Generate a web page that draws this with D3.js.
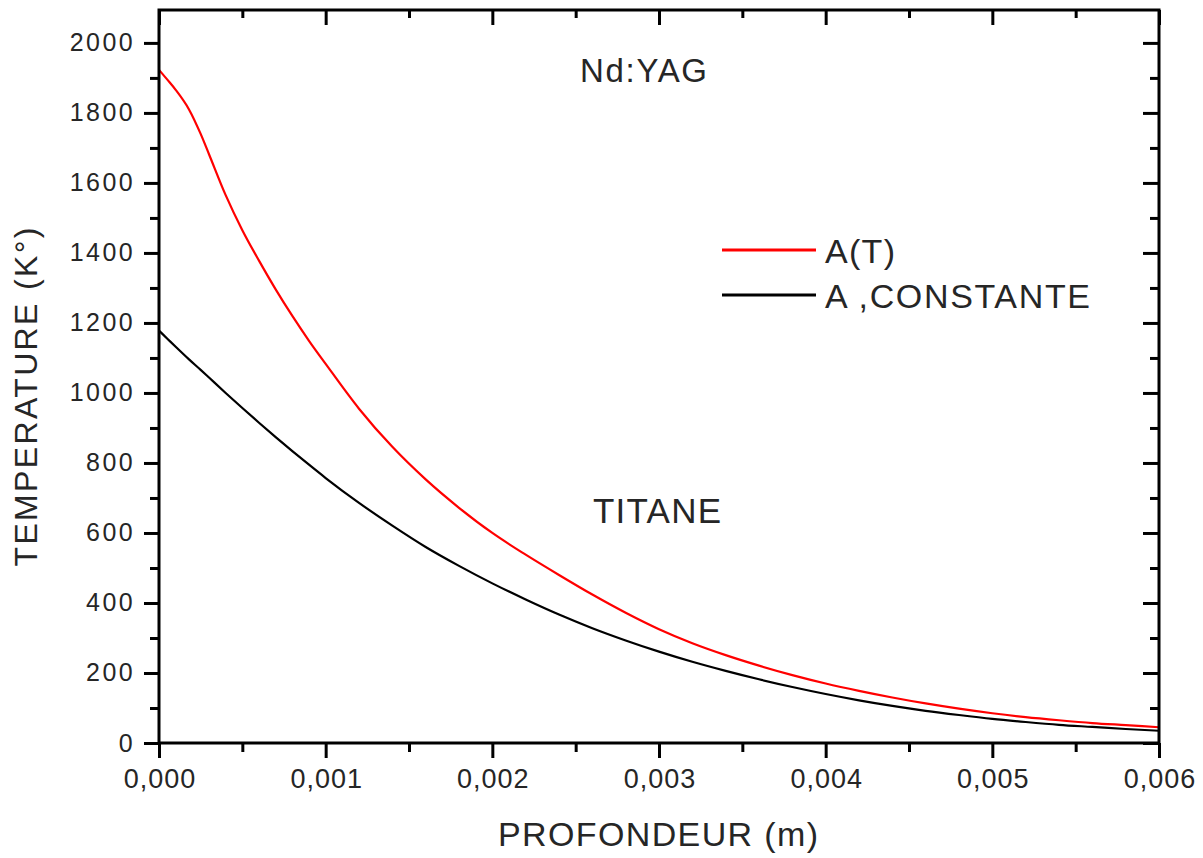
<!DOCTYPE html>
<html>
<head>
<meta charset="utf-8">
<script src="https://cdn.jsdelivr.net/npm/d3@7"></script>
<style>
  html, body { margin: 0; padding: 0; background: #fff; }
  svg { display: block; font-family: "Liberation Sans", Arial, sans-serif; }
</style>
</head>
<body>
<svg id="chart" width="1203" height="858"></svg>
<script>
// ---- data ----
const depth = [0, 0.00005, 0.0001, 0.00018, 0.00025, 0.0003, 0.0004, 0.0005, 0.0006, 0.0007, 0.0008, 0.0009,
  0.001, 0.0012, 0.0014, 0.0016, 0.0018, 0.002, 0.0022, 0.0024, 0.0026, 0.0028, 0.003,
  0.0032, 0.0034, 0.0036, 0.0038, 0.004, 0.0042, 0.0044, 0.0046, 0.0048, 0.005,
  0.0052, 0.0054, 0.0056, 0.0058, 0.006];
const tempAT = [1923, 1895, 1866, 1810, 1740, 1682, 1565, 1465, 1378, 1296, 1220, 1149,
  1083, 955, 846, 753, 672, 600, 538, 480, 424, 372, 325,
  285, 251, 221, 194, 170, 149, 130, 113, 98, 85,
  74, 65, 57, 51, 45];
const tempConst = [1178, 1155, 1132, 1096, 1066, 1044, 1000, 957, 915, 874, 834, 795,
  757, 686, 621, 560, 506, 456, 410, 367, 328, 293, 261,
  232, 206, 182, 160, 140, 122, 106, 92, 80, 69,
  60, 52, 46, 40, 35];
const xTicks = [0, 0.001, 0.002, 0.003, 0.004, 0.005, 0.006];
const xMinorTicks = [0.0005, 0.0015, 0.0025, 0.0035, 0.0045, 0.0055];
const yTicks = [0, 200, 400, 600, 800, 1000, 1200, 1400, 1600, 1800, 2000];
const yMinorTicks = [100, 300, 500, 700, 900, 1100, 1300, 1500, 1700, 1900];
const seriesNames = ["A(T)", "A ,CONSTANTE"];
const seriesColors = ["#ff0000", "#000000"];
const xTitle = "PROFONDEUR (m)";
const yTitle = "TEMPERATURE (K°)";
const annotations = ["Nd:YAG", "TITANE"];

// ---- layout ----
const svg = d3.select("#chart");
const L = 159, R = 1159, T = 10, B = 743;
const x = d3.scaleLinear().domain([0, 0.006]).range([L, R]);
const y = d3.scaleLinear().domain([0, 2094]).range([B, T]);
const fmtX = d => d.toFixed(3).replace(".", ",");
const axisColor = "#000";
const textColor = "#262626";

// curves
const series = [tempAT, tempConst];
const line = d3.line().x(d => x(d[0])).y(d => y(d[1])).curve(d3.curveMonotoneX);
[1, 0].forEach(i => {
  svg.append("path")
    .datum(depth.map((d, k) => [d, series[i][k]]))
    .attr("fill", "none")
    .attr("stroke", seriesColors[i])
    .attr("stroke-width", 2.2)
    .attr("d", line);
});

// axes
function styleAxis(g) {
  g.select(".domain").remove();
  g.selectAll(".tick line").attr("stroke", axisColor).attr("stroke-width", 3);
}
// bottom
const gB = svg.append("g").attr("transform", `translate(0,${B})`)
  .call(d3.axisBottom(x).tickValues(xTicks).tickFormat(fmtX).tickSize(15).tickPadding(11));
styleAxis(gB);
gB.selectAll("text").attr("fill", textColor).style("font-size", "27px").style("letter-spacing", "1px")
  .attr("dx", "0.5px");
svg.append("g").attr("transform", `translate(0,${B})`)
  .call(d3.axisBottom(x).tickValues(xMinorTicks).tickFormat("").tickSize(9)).call(styleAxis);
// top (inward)
svg.append("g").attr("transform", `translate(0,${T})`)
  .call(d3.axisBottom(x).tickValues(xTicks).tickFormat("").tickSize(15)).call(styleAxis);
svg.append("g").attr("transform", `translate(0,${T})`)
  .call(d3.axisBottom(x).tickValues(xMinorTicks).tickFormat("").tickSize(8)).call(styleAxis);
// left
const gL = svg.append("g").attr("transform", `translate(${L},0)`)
  .call(d3.axisLeft(y).tickValues(yTicks).tickFormat(d3.format("d")).tickSize(15).tickPadding(9));
styleAxis(gL);
gL.selectAll("text").attr("fill", textColor).style("font-size", "25px").style("letter-spacing", "2.4px");
svg.append("g").attr("transform", `translate(${L},0)`)
  .call(d3.axisLeft(y).tickValues(yMinorTicks).tickFormat("").tickSize(9)).call(styleAxis);
// right (inward)
svg.append("g").attr("transform", `translate(${R},0)`)
  .call(d3.axisLeft(y).tickValues(yTicks).tickFormat("").tickSize(16)).call(styleAxis);
svg.append("g").attr("transform", `translate(${R},0)`)
  .call(d3.axisLeft(y).tickValues(yMinorTicks).tickFormat("").tickSize(9)).call(styleAxis);

// frame
svg.append("rect").attr("x", L).attr("y", T).attr("width", R - L).attr("height", B - T)
  .attr("fill", "none").attr("stroke", axisColor).attr("stroke-width", 3);

// titles
svg.append("text").attr("x", 658).attr("y", 846).attr("text-anchor", "middle")
  .attr("fill", textColor).style("font-size", "34px")
  .attr("textLength", 320).attr("lengthAdjust", "spacing").text(xTitle);
svg.append("text").attr("transform", "translate(37,397) rotate(-90)").attr("text-anchor", "middle")
  .attr("fill", textColor).style("font-size", "32px")
  .attr("textLength", 339).attr("lengthAdjust", "spacing").text(yTitle);

// annotations
svg.append("text").attr("x", 580).attr("y", 82).attr("fill", textColor).style("font-size", "33px")
  .attr("textLength", 127).attr("lengthAdjust", "spacing").text(annotations[0]);
svg.append("text").attr("x", 593).attr("y", 523).attr("fill", textColor).style("font-size", "35px")
  .attr("textLength", 128).attr("lengthAdjust", "spacing").text(annotations[1]);

// legend
const legY = [250, 295];
const legLens = [70, 265];
seriesNames.forEach((name, i) => {
  svg.append("line").attr("x1", 722).attr("x2", 816).attr("y1", legY[i]).attr("y2", legY[i])
    .attr("stroke", seriesColors[i]).attr("stroke-width", 3);
  svg.append("text").attr("x", 825).attr("y", legY[i] + 13).attr("fill", textColor)
    .style("font-size", "34px").attr("textLength", legLens[i]).attr("lengthAdjust", "spacing")
    .text(name);
});
</script>
</body>
</html>
